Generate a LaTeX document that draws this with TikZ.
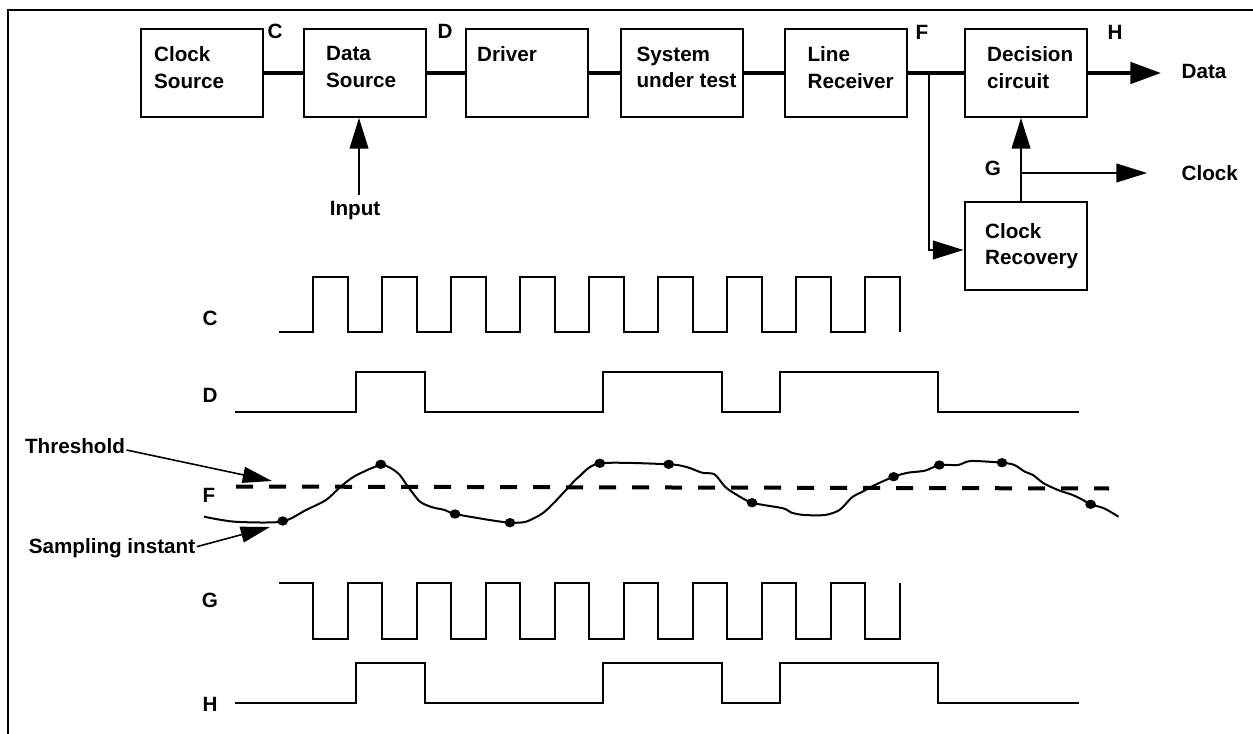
\documentclass[tikz,border=0pt]{standalone}
\usepackage{fontspec}
\setmainfont{Liberation Sans}
\usetikzlibrary{arrows.meta}
\tikzset{
  blk/.style = {draw, line width=1.5pt, minimum width=91.5pt, minimum height=66pt, inner sep=0pt},
  txt/.style = {font=\fontsize{15.5pt}{20pt}\selectfont\bfseries, align=left, inner sep=1pt},
  bus/.style = {line width=3pt},
  sig/.style = {line width=1.5pt},
  arr/.style = {line width=1.5pt, -{Triangle[length=23pt,width=14pt]}},
}
\begin{document}
\begin{tikzpicture}[x = 0.75pt, y = -0.75pt]
	\useasboundingbox (0,0) rectangle (1253,734);
	\draw [line width=2pt] (8,734) -- (8,10) -- (1253,10);
	% blocks
	\node [blk] (cs) at (201.5,73) {};
	\node [blk] (ds) at (364.5,73) {};
	\node [blk] (drv) at (526.5,73) {};
	\node [blk] (sut) at (682,73) {};
	\node [blk] (lr) at (846,73) {};
	\node [blk] (dc) at (1025.5,73) {};
	\node [blk] (cr) at (1025.5,246.5) {};
	\node [txt, anchor=north west] (cst) at ([shift={(13,17)}]cs.north west) {Clock\\Source};
	\node [txt, anchor=north west] (dst) at ([shift={(22,17)}]ds.north west) {Data\\Source};
	\node [txt, anchor=north west] (drvt) at ([shift={(11,17)}]drv.north west) {Driver};
	\node [txt, anchor=north west] (sutt) at ([shift={(15,17)}]sut.north west) {System\\under test};
	\node [txt, anchor=north west] (lrt) at ([shift={(22,17)}]lr.north west) {Line\\Receiver};
	\node [txt, anchor=north west] (dct) at ([shift={(22,17)}]dc.north west) {Decision\\circuit};
	\node [txt, anchor=north west] (crt) at ([shift={(20,20)}]cr.north west) {Clock\\Recovery};
	\draw [bus] (cs) -- (ds);
	\draw [bus] (ds) -- (drv);
	\draw [bus] (drv) -- (sut);
	\draw [bus] (sut) -- (lr);
	\draw [bus] (lr) -- (dc);
	\node [txt] (lblc) at (275,31) {C};
	\node [txt] (lbld) at (445,31) {D};
	\node [txt] (lblf) at (922,32) {F};
	\node [txt] (lblh) at (1115,32) {H};
	\node [txt] (lblg) at (993,168) {G};
	% outputs
	\node [txt, anchor=west] (dout) at (1180,71) {Data};
	\node [txt, anchor=west] (cout) at (1180,173) {Clock};
	\coordinate (dtip) at (1161,73);
	\coordinate (ctip) at (1147,173);
	\draw [bus, -{Triangle[length=23pt,width=16pt]}] (dc) -- (dtip);
	\coordinate (g) at (1021,173);
	\draw [sig] (cr.north -| g) -- (g);
	\draw [arr] (g) -- (dc.south -| g);
	\draw [arr] (g) -- (ctip);
	\coordinate (fb) at (929,73);
	\coordinate (fr) at (929,250);
	\draw [arr] (fb) -- (fr) -- (fr -| cr.west);
	% input
	\node [txt] (inp) at (355,211) {Input};
	\coordinate (inpt) at (359,195);
	\draw [arr] (inpt) -- (ds.south -| inpt);
	% waveforms
	\node [txt] (wc) at (210,318) {C};
	\node [txt] (wd) at (210,395) {D};
	\node [txt] (wf) at (209,495) {F};
	\node [txt] (wg) at (210,600) {G};
	\node [txt] (wh) at (210,704) {H};
	\draw [sig] (278.8,332) \foreach \k in {1,...,9}{ -- ++(34.5,0) -- ++(0,-55) -- ++(34.5,0) -- ++(0,55) };
	\draw [sig] (278.8,583) \foreach \k in {1,...,9}{ -- ++(34.5,0) -- ++(0,56) -- ++(34.5,0) -- ++(0,-56) };
	\foreach \y in {412,703}{
	\draw [sig] (235,\y) -- (355.5,\y) -- ++(0,-40) -- (424.8,\y-40) -- ++(0,40) -- (603,\y) -- ++(0,-40) -- (722,\y-40) -- ++(0,40) -- (780,\y) -- ++(0,-40) -- (937.6,\y-40) -- ++(0,40) -- (1079,\y);
	}
	\draw [line width=3pt, dash pattern=on 12.75pt off 12pt] (236,486.5) -- (1109,488.5);
	\draw [sig] plot [smooth, tension=0.45] coordinates {(204,516.7) (234.6,521.7) (281.5,521.7) (306,510) (326,500) (340.7,486.7) (355,476) (381.5,465) (397.8,473) (408,486.7) (420,501.7) (432.5,507.3) (444.7,510) (455,514) (489.6,520) (510,522.7) (526,521.7) (542.6,513.3) (555,501.7) (569,486.7) (579,476.7) (599.8,463.3) (668.7,464.3) (687.5,467.3) (702,472.7) (714.5,474.3) (725,486.7) (735.4,494) (752,502.7) (783,508.3) (791.6,512.7) (804,515) (825,515) (839.5,510) (852,497.3) (862.4,491.7) (874.9,485) (893.6,476.7) (908,472.7) (924.9,470.7) (939.4,465) (958,465) (970.7,461) (1002,462.7) (1014.4,465) (1024.8,471.7) (1033,475) (1043.6,483.3) (1058,490) (1072.7,495) (1083,500) (1090.6,504.3) (1104,508.3) (1118.5,516.7)};
	\foreach \p in {(282.7,521),(380.7,464.3),(455,514),(510,522.7),(599.8,463.3),(668.7,464.3),(752,502.7),(893.6,476.7),(939.4,465),(1002,462.7),(1090.6,504.3)}{
	\fill \p ellipse (4pt and 3.5pt);
	}
	\node [txt] (thr) at (75,446) {Threshold};
	\node [txt] (smp) at (112,548) {Sampling instant};
	\coordinate (thrtip) at (272,481);
	\coordinate (smptip) at (270,527);
	\draw [line width=1.2pt, -{Triangle[length=22pt,width=12pt]}] ([yshift=-3pt]thr.east) -- (thrtip);
	\draw [line width=1.2pt, -{Triangle[length=22pt,width=12pt]}] ([yshift=1pt]smp.east) -- (smptip);
\end{tikzpicture}
\end{document}
